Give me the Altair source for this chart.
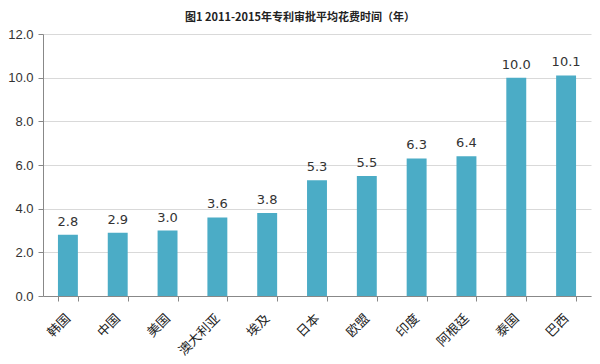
import altair as alt
import pandas as pd

countries = ["韩国", "中国", "美国", "澳大利亚", "埃及", "日本", "欧盟", "印度", "阿根廷", "泰国", "巴西"]
years = [2.8, 2.9, 3.0, 3.6, 3.8, 5.3, 5.5, 6.3, 6.4, 10.0, 10.1]
y_ticks = [0, 2, 4, 6, 8, 10, 12]

df = pd.DataFrame({"country": countries, "years": years})

x = alt.X("country:N", sort=countries, title=None,
          scale=alt.Scale(paddingInner=0.6, paddingOuter=0.3),
          axis=alt.Axis(labelAngle=-45, labelAlign="right", labelBaseline="middle",
                        labelFont="Noto Sans CJK SC", labelFontSize=13, labelColor="#222",
                        labelPadding=15, tickBand="extent", tickSize=5, tickColor="#888",
                        domainColor="#888", grid=False))
y = alt.Y("years:Q", title=None,
          scale=alt.Scale(domain=[0, 12], nice=False),
          axis=alt.Axis(values=y_ticks, format=".1f", labelFont="Liberation Sans", labelFontSize=13,
                        labelColor="#333", labelPadding=5, tickSize=5, tickColor="#888",
                        domainColor="#888", gridColor="#d9d9d9"))

bars = alt.Chart(df).mark_bar(color="#4bacc6").encode(x=x, y=y)
labels = alt.Chart(df).mark_text(dy=-13, fontSize=13, font="DejaVu Sans", color="#333").encode(
    x=alt.X("country:N", sort=countries), y="years:Q", text=alt.Text("years:Q", format=".1f"))

chart = (bars + labels).properties(
    width=548, height=262,
    autosize=alt.AutoSizeParams(type="none"),
    padding={"left": 35, "top": 26, "right": 1, "bottom": 62},
    title=alt.TitleParams("图1 2011-2015年专利审批平均花费时间（年）", fontSize=11,
                          font="Noto Sans CJK SC", fontWeight="bold", color="#222",
                          anchor="middle", dx=-17, offset=5),
).configure_view(stroke=None)

chart.save("out.html", embed_options={"renderer": "svg", "actions": False})
